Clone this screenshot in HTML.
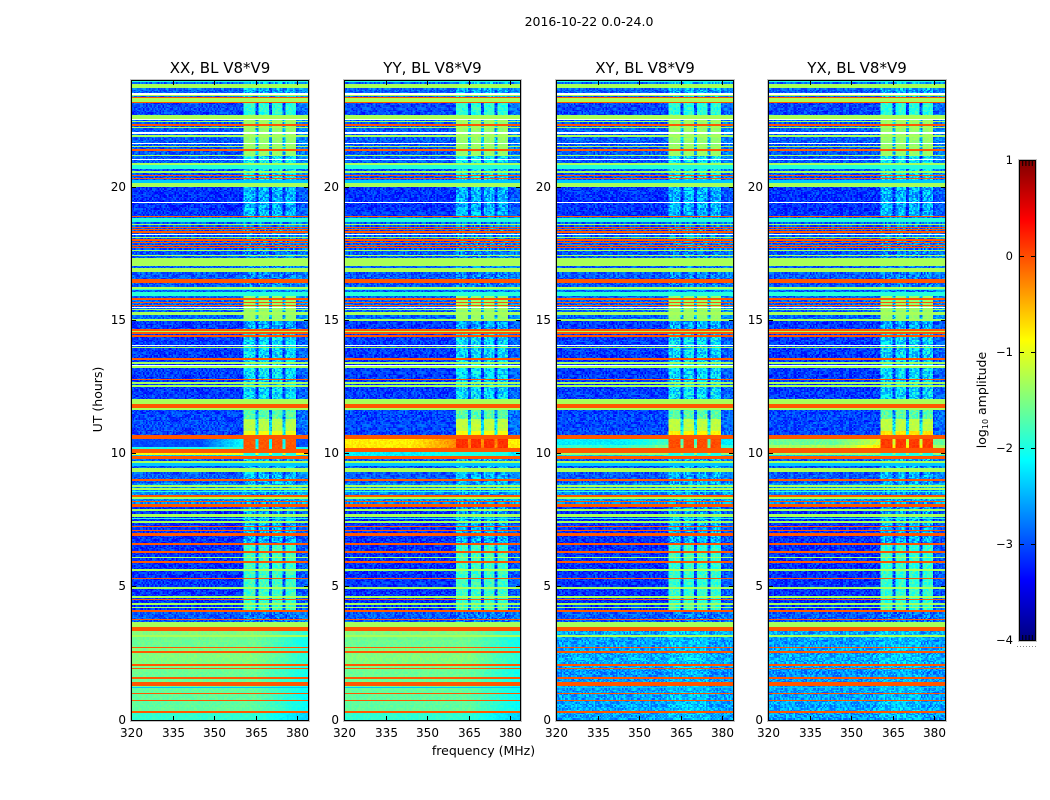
<!DOCTYPE html>
<html lang="en">
<head>
<meta charset="utf-8">
<title>2016-10-22 0.0-24.0</title>
<style>
html,body{margin:0;padding:0;background:#fff}
#figure{position:relative;width:1050px;height:800px;overflow:hidden;background:#fff;font-family:"DejaVu Sans","Liberation Sans",sans-serif}
canvas{position:absolute;image-rendering:pixelated;display:block}
#overlay{position:absolute;left:0;top:0}
text{font-family:"DejaVu Sans","Liberation Sans",sans-serif;fill:#000}
</style>
</head>
<body>
<div id="figure">
<svg id="overlay" width="1050" height="800" viewBox="0 0 1050 800">
  <text x="589" y="26" font-size="12.5" text-anchor="middle">2016-10-22 0.0-24.0</text>
  <text x="483.5" y="755" font-size="12.5" text-anchor="middle">frequency (MHz)</text>
  <text x="102" y="399.5" font-size="12.5" text-anchor="middle" transform="rotate(-90 102 399.5)">UT (hours)</text>
  <text x="986" y="400" font-size="12.5" text-anchor="middle" transform="rotate(-90 986 400)">log<tspan font-size="8" dy="2">10</tspan><tspan dy="-2"> amplitude</tspan></text>
</svg>
</div>
<script>
// ---- Data (log10 amplitude; hours UT, MHz) ----
const G = -1.3, O = -0.05, C = -1.95, L = -2.4, W = null;
const panelNames = ['XX', 'YY', 'XY', 'YX'];
const freqTicks = [320, 335, 350, 365, 380];
const utTicks = [0, 5, 10, 15, 20];
const colorbarTicks = [-4, -3, -2, -1, 0, 1];

// Broadband stripes shared by all polarisations: [startHour, endHour, level]
const stripes = [
  [0.29,0.33,O],[0.72,0.76,O],[0.98,1.03,O],[1.20,1.24,L],[1.31,1.44,O],[1.56,1.60,O],
  [1.92,1.96,O],[2.05,2.09,O],[2.52,2.57,O],[2.71,2.75,O],[3.13,3.17,G],[3.36,3.40,O],
  [3.43,3.47,O],[3.49,3.68,G],[3.76,3.80,O],[4.06,4.11,O],[4.20,4.24,G],[4.33,4.37,G],
  [4.51,4.55,O],[4.61,4.65,G],[4.93,4.97,G],[5.30,5.34,O],[5.61,5.65,G],[5.91,5.95,O],
  [6.09,6.13,G],[6.28,6.32,O],[6.58,6.62,O],[6.93,7.01,O],[7.09,7.13,O],[7.25,7.29,O],
  [7.42,7.46,G],[7.55,7.59,C],[7.62,7.74,G],[7.87,7.91,G],[8.01,8.11,O],[8.18,8.22,O],
  [8.32,8.36,G],[8.39,8.43,O],[8.56,8.60,C],[8.66,8.71,G],[8.77,8.83,G],[8.98,9.02,O],
  [9.33,9.45,G],[9.56,9.62,L],[9.65,9.70,G],
  [11.65,11.72,G],[11.72,11.86,O],[11.86,12.02,G],[12.52,12.56,G],[12.63,12.67,G],
  [12.75,12.79,O],[13.23,13.27,G],[13.28,13.32,W],[13.38,13.42,G],[13.50,13.56,O],
  [13.95,13.99,G],[14.04,14.08,W],[14.38,14.44,O],[14.50,14.54,O],
  [14.56,14.60,G],[14.62,14.68,O],[14.99,15.03,G],[15.19,15.29,G],[15.38,15.42,G],
  [15.45,15.49,W],[15.53,15.57,O],[15.65,15.69,O],
  [15.77,15.81,O],[15.92,16.04,C],[16.13,16.17,C],[16.17,16.23,G],[16.42,16.53,O],
  [16.80,16.94,G],[17.03,17.33,G],[17.41,17.45,G],[17.60,17.64,G],[17.70,17.74,O],
  [17.78,17.82,O],[17.90,17.94,O],[17.98,18.02,O],[18.09,18.13,G],[18.20,18.24,W],
  [18.28,18.32,O],[18.38,18.42,O],[18.46,18.50,O],[18.57,18.61,G],[18.70,18.83,C],
  [18.87,18.91,O],[19.40,19.44,W],[20.02,20.15,G],[20.15,20.24,L],[20.30,20.34,O],
  [20.41,20.45,O],[20.54,20.58,G],[20.69,20.85,C],[20.83,20.87,G],[21.01,21.05,W],
  [21.16,21.20,G],[21.37,21.41,O],[21.50,21.54,G],[21.60,21.64,W],[21.88,21.92,G],
  [22.01,22.05,W],[22.20,22.24,G],[22.31,22.35,O],[22.44,22.48,G],[22.50,22.54,W],
  [22.56,22.70,G],[23.15,23.21,O],[23.21,23.32,G],[23.34,23.38,O],[23.42,23.46,G],
  [23.47,23.51,W],[23.70,23.86,G],[23.93,23.97,C]
];

// Polarisation-specific rows around the 10 UT event: [startHour, endHour, level, levelAt360MHz]
const eventRowsXX = [[9.81,9.90,O,O],[9.90,9.95,-2.4,-2.3],[9.95,10.02,-0.9,-1.0],[10.02,10.17,O,O],[10.17,10.27,-2.0,-1.9],[10.27,10.54,-3.0,-2.1],[10.54,10.70,O,O]];
const eventRowsYY = [[9.81,9.90,O,O],[9.90,10.05,-2.2,-2.0],[10.05,10.20,O,O],[10.20,10.54,-0.8,-0.3],[10.54,10.70,O,O]];
const eventRowsXY = [[9.81,9.90,O,O],[9.90,9.95,-2.4,-2.2],[9.95,10.02,-1.4,-1.4],[10.02,10.20,O,O],[10.20,10.33,-1.9,-1.5],[10.33,10.54,-2.2,-1.8],[10.54,10.70,O,O]];
const eventRowsYX = [[9.81,9.90,O,O],[9.90,9.95,-2.4,-2.2],[9.95,10.02,-1.4,-1.4],[10.02,10.20,O,O],[10.20,10.33,-1.3,-0.8],[10.33,10.54,-1.6,-1.1],[10.54,10.70,O,O]];

// Pass-bands visible between 360 and 380 MHz: [startMHz, endMHz]
const passBands = [[360.5,364.8],[365.9,369.9],[371,374.9],[376,379.7]];

// Pass-band level over time: [startHour, endHour, XX, YY, XY, YX]
const passLevels = [
  [3.6,4.1,-2.8,-2.8,-2.8,-2.8],[4.1,6.6,-1.85,-1.85,-1.9,-1.9],[6.6,7.6,-2.5,-2.5,-2.5,-2.5],
  [7.6,8.7,-2.6,-2.6,-2.6,-2.6],[8.7,9.8,-2.5,-2.5,-2.5,-2.5],[9.8,10.1,-2.0,-2.0,-2.0,-2.0],
  [10.1,10.54,-0.05,0.15,0.0,0.1],[10.54,10.85,-0.95,-0.9,-0.85,-0.75],[10.85,11.3,-1.25,-1.2,-1.2,-1.2],
  [11.3,12.0,-1.7,-1.7,-1.7,-1.7],[12.0,14.6,-2.3,-2.3,-2.3,-2.3],[14.6,15.0,-2.55,-2.55,-2.55,-2.55],
  [15.0,16.0,-1.4,-1.4,-1.4,-1.4],[16.0,18.9,-2.75,-2.75,-2.75,-2.75],[18.9,20.0,-2.5,-2.5,-2.5,-2.5],
  [20.0,21.2,-2.2,-2.2,-2.2,-2.2],[21.2,22.7,-1.4,-1.4,-1.4,-1.4],[22.7,23.2,-1.95,-1.95,-1.95,-1.95],
  [23.2,24.0,-2.5,-2.5,-2.5,-2.5]
];

// Quiet background over time: [startHour, endHour, XX, YY, XY, YX]
const quietLevels = [
  [0,0.3,-1.9,-1.9,-2.6,-2.6],[0.3,0.7,-1.65,-1.65,-2.55,-2.55],[0.7,1.3,-1.65,-1.65,-2.6,-2.6],
  [1.3,2.0,-1.6,-1.6,-2.65,-2.65],[2.0,2.7,-1.5,-1.5,-2.55,-2.55],[2.7,3.1,-1.6,-1.6,-2.6,-2.6],
  [3.1,3.6,-1.5,-1.5,-2.55,-2.55],[3.6,4.1,-2.95,-2.95,-2.95,-2.95],[4.1,8.0,-3.15,-3.15,-3.15,-3.15],
  [8.0,8.9,-2.7,-2.7,-2.7,-2.7],[8.9,9.8,-2.95,-2.95,-2.95,-2.95],[9.8,11.7,-3.05,-3.05,-3.05,-3.05],
  [11.7,15.0,-3.1,-3.1,-3.1,-3.1],[15.0,16.2,-2.9,-2.9,-2.9,-2.9],[16.2,18.9,-2.95,-2.95,-2.95,-2.95],
  [18.9,20.0,-3.15,-3.15,-3.15,-3.15],[20.0,22.6,-2.95,-2.95,-2.95,-2.95],[22.6,23.2,-3.05,-3.05,-3.05,-3.05],
  [23.2,24.0,-2.9,-2.9,-2.9,-2.9]
];

// Fixed grain added to noisy cells, in units of the grain amplitude
const speckle = [0.6,-0.9,0.1,0.9,-0.4,-1,0.4,0.2,-0.7,1,-0.2,0.7,-0.5,0.3,-0.8,0.5,0,-0.3,0.8,-1,0.2,0.9,-0.6,-0.1,0.4,-0.9,0.7,0.1,-0.4,0.6,-0.7,1,-0.2,0.3,-0.5,0.8,-0.1];

// ---- Axis functions ----
const panelLefts = [131, 344, 556, 768];
const panelWidths = [177, 176, 177, 177];
const plotTop = 80, plotBottom = 720;
const freqMax = 320 + 177 / 2.77;
const xOf = (p, f) => panelLefts[p] + (f - 320) * 2.77;
const yOf = (h) => plotBottom - h * (plotBottom - 81) / 24;

function jet(t) {
  const c = (a) => Math.round(255 * Math.max(0, Math.min(1, 1.5 - Math.abs(a))));
  return [c(4 * t - 3), c(4 * t - 2), c(4 * t - 1)];
}
const levelColor = (v) => jet((v + 4) / 5);
const lookup = (table, h, p) => {
  for (const row of table) if (h >= row[0] && h < row[1]) return row[2 + p];
  return table[table.length - 1][2 + p];
};

const figure = document.getElementById('figure');
const overlay = document.getElementById('overlay');
const NS = 'http://www.w3.org/2000/svg';
const eventRows = [eventRowsXX, eventRowsYY, eventRowsXY, eventRowsYX];

function drawPanel(p) {
  const cols = 118, rows = 640;
  const cv = document.createElement('canvas');
  cv.width = cols; cv.height = rows;
  cv.style.left = panelLefts[p] + 'px';
  cv.style.top = plotTop + 'px';
  cv.style.width = panelWidths[p] + 'px';
  cv.style.height = (plotBottom - plotTop) + 'px';
  
  
  figure.insertBefore(cv, overlay);
  const ctx = cv.getContext('2d');
  const img = ctx.createImageData(cols, rows);
  const rowHours = 24 / rows;

  // Resolve which stripe (if any) covers each row
  const rowStripe = new Array(rows).fill(undefined);
  for (const s of stripes) {
    const a = Math.floor(s[0] / rowHours);
    const b = Math.max(a + 1, Math.round(s[1] / rowHours));
    for (let r = a; r < b && r < rows; r++) rowStripe[r] = s[2];
  }
  const rowEvent = new Array(rows).fill(null);
  for (const s of eventRows[p]) {
    const a = Math.floor(s[0] / rowHours);
    const b = Math.max(a + 1, Math.round(s[1] / rowHours));
    for (let r = a; r < b && r < rows; r++) rowEvent[r] = s;
  }

  for (let r = 0; r < rows; r++) {
    const hour = (r + 0.5) * rowHours;
    const quiet = lookup(quietLevels, hour, p);
    const pass = hour >= 3.6 ? lookup(passLevels, hour, p) : null;
    const stripe = rowStripe[r];
    const ev = rowEvent[r];
    const rc = Math.floor(r * 0.7);
    for (let c = 0; c < cols; c++) {
      const f = 320 + (c + 0.5) / cols * (freqMax - 320);
      let level, grain = 0.3;
      const inBand = passBands.some(b => f >= b[0] && f < b[1]);
      const inSpan = f >= passBands[0][0] && f < passBands[3][1];
      if (stripe !== undefined) {
        level = stripe; grain = 0;
      } else if (ev && ev[2] === O) {
        level = O; grain = 0;
      } else if (ev && pass !== null && inBand) {
        level = pass; grain = 0.08;
      } else if (ev) {
        const mix = Math.max(0, Math.min(1, (f - 345) / 15));
        level = f > passBands[3][1] ? ev[2] : ev[2] + (ev[3] - ev[2]) * mix;
        grain = 0.12;
      } else if (pass !== null && inBand) {
        level = pass;
        grain = pass > -1.6 ? 0.1 : (pass > -2.1 ? 0.25 : 0.45);
      } else if (pass !== null && inSpan) {
        level = Math.max(quiet, pass - 1.1); grain = 0.35;
      } else {
        level = quiet;
        if (hour < 3.6) {
          if (p < 2) { grain = 0.08; if (f > 365) level -= (f - 365) * 0.025; }
          else { grain = 0.35; if (f > 360 && f < 375) level += 0.15; }
        } else if (f > 380) level += 0.2;
      }
      const idx = (c * c * 7 + rc * rc * 11 + c * rc * 3 + c * 13 + rc * 5 + p * 17) % speckle.length;
      const i = 4 * ((rows - 1 - r) * cols + c);
      if (level === null) {
        img.data[i] = img.data[i + 1] = img.data[i + 2] = 255;
      } else {
        const rgb = levelColor(level + grain * speckle[idx]);
        img.data[i] = rgb[0]; img.data[i + 1] = rgb[1]; img.data[i + 2] = rgb[2];
      }
      img.data[i + 3] = 255;
    }
  }
  ctx.putImageData(img, 0, 0);
}

function svgLine(x1, y1, x2, y2, name, color, dash) {
  const l = document.createElementNS(NS, 'line');
  l.setAttribute('x1', x1); l.setAttribute('y1', y1);
  l.setAttribute('x2', x2); l.setAttribute('y2', y2);
  l.setAttribute('stroke', color || '#000');
  l.setAttribute('stroke-width', '1');
  if (dash) l.setAttribute('stroke-dasharray', dash);
  
  
  overlay.appendChild(l);
}
function svgText(x, y, str, size, anchor, name) {
  const t = document.createElementNS(NS, 'text');
  t.setAttribute('x', x); t.setAttribute('y', y);
  t.setAttribute('font-size', size);
  t.setAttribute('text-anchor', anchor);
  t.textContent = str;
  
  
  overlay.appendChild(t);
}
function svgFrame(x, y, w, h, name) {
  const halo = document.createElementNS(NS, 'rect');
  halo.setAttribute('x', x - 1); halo.setAttribute('y', y - 1);
  halo.setAttribute('width', w + 2); halo.setAttribute('height', h + 2);
  halo.setAttribute('fill', 'none');
  halo.setAttribute('stroke', '#c4c4c4');
  halo.setAttribute('stroke-width', '1');
  
  
  overlay.appendChild(halo);
  const f = document.createElementNS(NS, 'rect');
  f.setAttribute('x', x); f.setAttribute('y', y);
  f.setAttribute('width', w); f.setAttribute('height', h);
  f.setAttribute('fill', 'none');
  f.setAttribute('stroke', '#000');
  f.setAttribute('stroke-width', '1');
  
  
  overlay.appendChild(f);
}

function drawAxes(p) {
  const left = panelLefts[p], right = left + panelWidths[p];
  const key = panelNames[p].toLowerCase();
  svgFrame(left + 0.5, plotTop + 0.5, panelWidths[p], plotBottom - plotTop, 'axes-frame-' + key);
  svgText(left + panelWidths[p] / 2 + 0.5, 73, panelNames[p] + ', BL V8*V9', 15, 'middle', 'panel-title-' + key);
  for (const f of freqTicks) {
    const x = Math.round(xOf(p, f)) + 0.5;
    svgLine(x, plotBottom, x, plotBottom - 4, 'x-tick-' + key);
    svgLine(x, plotTop + 1, x, plotTop + 5, 'x-tick-top-' + key);
    svgText(x, 737, String(f), 12, 'middle', 'x-tick-label-' + key);
  }
  for (const h of utTicks) {
    const y = Math.floor(yOf(h)) + 0.5;
    svgLine(left + 1, y, left + 5, y, 'y-tick-' + key);
    svgLine(right - 4, y, right, y, 'y-tick-right-' + key);
    svgText(left - 5, y + 3.5, String(h), 12, 'end', 'y-tick-label-' + key);
  }
}

function drawColorbar() {
  const barLeft = 1019, barTop = 160, barW = 16, barH = 480;
  const cv = document.createElement('canvas');
  cv.width = 1; cv.height = barH;
  cv.style.left = barLeft + 'px';
  cv.style.top = barTop + 'px';
  cv.style.width = barW + 'px';
  cv.style.height = barH + 'px';
  
  
  figure.insertBefore(cv, overlay);
  const ctx = cv.getContext('2d');
  const vMin = colorbarTicks[0], vMax = colorbarTicks[colorbarTicks.length - 1];
  for (let i = 0; i < barH; i++) {
    const rgb = levelColor(vMax - (i + 0.5) / barH * (vMax - vMin));
    ctx.fillStyle = 'rgb(' + rgb.join(',') + ')';
    ctx.fillRect(0, i, 1, 1);
  }
  svgFrame(barLeft + 0.5, barTop + 0.5, barW, barH, 'colorbar-frame');
  const yv = (v) => barTop + (vMax - v) / (vMax - vMin) * barH;
  for (const v of colorbarTicks) {
    const y = Math.round(yv(v)) + 0.5;
    if (v !== vMin && v !== vMax) {
      svgLine(barLeft + 1, y, barLeft + 5, y, 'colorbar-tick');
      svgLine(barLeft + barW - 4, y, barLeft + barW, y, 'colorbar-tick-right');
    }
    const label = (v < 0 ? '\u2212' : '') + Math.abs(v);
    svgText(barLeft - 6, y + 3.5, label, 11.5, 'end', 'colorbar-tick-label');
  }
  for (let k = 1; k <= 4; k++) {
    const x = barLeft + k * barW / 5 + 0.5;
    svgLine(x, barTop + 1, x, barTop + 6, 'colorbar-end-tick');
    svgLine(x, barTop + barH, x, barTop + barH - 5, 'colorbar-end-tick');
  }
  svgLine(barLeft - 2, barTop + barH + 6.5, barLeft + barW + 1, barTop + barH + 6.5, 'colorbar-dotted-offset', '#888', '1 2');
}

panelNames.forEach((_, p) => { drawPanel(p); drawAxes(p); });
drawColorbar();
</script>
</body>
</html>
